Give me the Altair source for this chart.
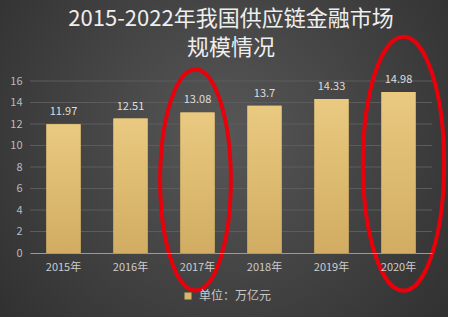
import altair as alt
import pandas as pd

# ---- data ----
years = ["2015年", "2016年", "2017年", "2018年", "2019年", "2020年"]
values = [11.97, 12.51, 13.08, 13.7, 14.33, 14.98]
series_name = "单位：万亿元"
title_lines = ["2015-2022年我国供应链金融市场", "规模情况"]
y_ticks = [0, 2, 4, 6, 8, 10, 12, 14, 16]
highlight_years = ["2017年", "2020年"]

# ---- layout ----
W, H = 402, 172
PL, PT, PR, PB = 30, 81, 18, 65
FONT = "Noto Sans CJK SC"

df = pd.DataFrame({"year": years, "value": values, "series": [series_name] * len(years)})
grid_df = pd.DataFrame({"value": y_ticks[1:]})

x_axis = alt.Axis(title=None, labelAngle=0, domain=True, domainColor="#9a9a9a",
                  ticks=False, labelColor="#cccccc", labelFontSize=11, labelFont=FONT,
                  labelPadding=8, grid=False, zindex=1)
y_axis = alt.Axis(title=None, values=y_ticks, domain=False, ticks=False, grid=False,
                  labelColor="#bbbbbb", labelFontSize=11, labelFont=FONT, labelPadding=8,
                  labelOverlap=False, zindex=1)
x_scale = alt.Scale(paddingInner=0.49, paddingOuter=0.245)
y_scale = alt.Scale(domain=[0, 16], nice=False)

x_enc = alt.X("year:N", sort=years, scale=x_scale, axis=x_axis)
y_enc = alt.Y("value:Q", scale=y_scale, axis=y_axis)

bg = alt.Chart(pd.DataFrame({"k": [0]})).mark_rect(
    color={"gradient": "radial", "x1": 0.5, "y1": 0.45, "r1": 0,
           "x2": 0.5, "y2": 0.45, "r2": 0.75,
           "stops": [{"offset": 0, "color": "#575757"},
                     {"offset": 1, "color": "#2a2a2a"}]}
).encode(
    x=alt.value(-PL), x2=alt.value(W + PR - 2),
    y=alt.value(-PT), y2=alt.value(H + PB - 1),
)

grid = alt.Chart(grid_df).mark_rule(color="#5c5c5c", strokeWidth=1).encode(
    y=y_enc, x=alt.value(0), x2=alt.value(W))

base = alt.Chart(df)

bars_legend = base.mark_bar().encode(
    x=x_enc, y=y_enc,
    color=alt.Color("series:N", scale=alt.Scale(range=["#d9b56a"]),
                    legend=alt.Legend(title=None, orient="none", legendX=152, legendY=209,
                                      symbolType="square", symbolSize=49, symbolStrokeWidth=0,
                                      labelFontSize=12, labelColor="#c8c8c8", labelFont=FONT,
                                      labelOffset=5, padding=0)),
)

bars = base.mark_bar(
    color={"gradient": "linear", "x1": 0, "y1": 0, "x2": 0, "y2": 1,
           "stops": [{"offset": 0, "color": "#e9ca80"},
                     {"offset": 1, "color": "#d1ac62"}]}
).encode(x=x_enc, y=y_enc)

labels = base.mark_text(dy=-9, baseline="alphabetic", color="#dddddd",
                        fontSize=11, font=FONT).encode(
    x=x_enc, y=y_enc, text=alt.Text("value:Q"))

ELLIPSE = "M-0.32,0 A0.32,1 0 1,0 0.32,0 A0.32,1 0 1,0 -0.32,0 Z"
ell_df = pd.DataFrame({"year": highlight_years, "value": [6.8, 8.3]})
ell1 = alt.Chart(ell_df).transform_filter(alt.datum.year == highlight_years[0]).mark_point(
    shape=ELLIPSE, filled=False, stroke="#e8000b", strokeWidth=4, opacity=1,
    size=221 ** 2, xOffset=-2
).encode(x=x_enc, y=y_enc)
ell2 = alt.Chart(ell_df).transform_filter(alt.datum.year == highlight_years[1]).mark_point(
    shape=ELLIPSE, filled=False, stroke="#e8000b", strokeWidth=4, opacity=1,
    size=254 ** 2, xOffset=5
).encode(x=x_enc, y=y_enc)

chart = alt.layer(bg, grid, bars_legend, bars, labels, ell1, ell2).properties(
    width=W, height=H,
    title=alt.TitleParams(text=title_lines, fontSize=22, color="#eeeeee", font=FONT,
                          fontWeight="normal", anchor="middle", offset=-60,
                          lineHeight=29, zindex=2),
    autosize=alt.AutoSizeParams(type="none"),
    padding={"left": PL, "top": PT, "right": PR, "bottom": PB},
).configure_view(stroke=None).configure(background="#ffffff")

chart.save("out.html", embed_options={"renderer": "svg", "actions": False})
